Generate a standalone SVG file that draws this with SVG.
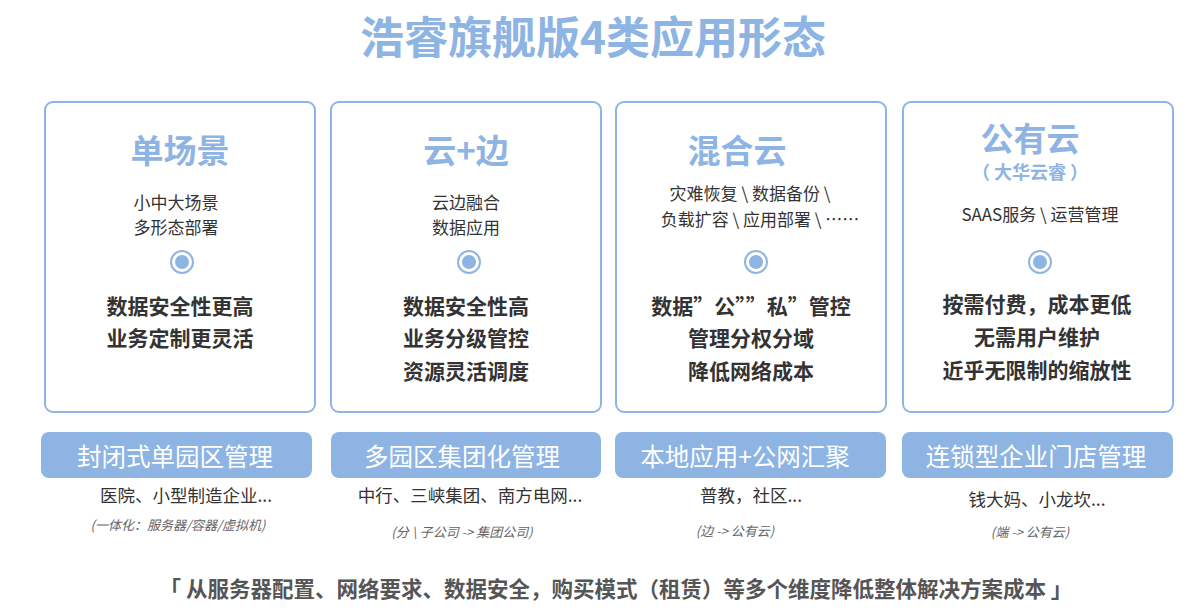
<svg xmlns="http://www.w3.org/2000/svg" width="1200" height="611" viewBox="0 0 1200 611">
<style>
text{font-family:"Noto Sans CJK SC","Noto Sans",sans-serif;text-anchor:middle}
.card{fill:#fff;stroke:#8db4e3;stroke-width:2}
.bar{fill:#8db4e3}
.h{font-size:33px;font-weight:bold;fill:#8db4e3}
.s{font-size:17px;fill:#333}
.b{font-size:21px;font-weight:bold;fill:#333}
.bt{font-size:24.5px;fill:#fff}
.c{font-size:17.5px;fill:#333}
.i{font-size:13px;font-style:italic;fill:#666}
</style>
<rect width="1200" height="611" fill="#fff"/>
<text x="593" y="54" style="font-size:44px;font-weight:bold;fill:#8db4e3">浩睿旗舰版4类应用形态</text>
<g id="n1">
<rect class="card" x="45" y="102" width="270" height="310" rx="8"/>
<text class="h" x="180" y="163">单场景</text>
<text class="s" x="176" y="209">小中大场景</text>
<text class="s" x="176" y="234">多形态部署</text>
<circle cx="182" cy="262" r="11" fill="none" stroke="#8db4e3" stroke-width="2"/><circle cx="182" cy="262" r="7" fill="#8db4e3"/>
<text class="b" x="180" y="314">数据安全性更高</text>
<text class="b" x="180" y="346">业务定制更灵活</text>
<rect class="bar" x="41" y="432" width="271" height="46" rx="8"/>
<text class="bt" x="175" y="466">封闭式单园区管理</text>
<text class="c" x="186" y="502">医院、小型制造企业...</text>
<text class="i" x="178" y="530">(一体化：服务器/容器/虚拟机)</text>
</g>
<g id="n2">
<rect class="card" x="331" y="102" width="270" height="310" rx="8"/>
<text class="h" x="466" y="163">云+边</text>
<text class="s" x="466" y="209">云边融合</text>
<text class="s" x="466" y="234">数据应用</text>
<circle cx="469" cy="262" r="11" fill="none" stroke="#8db4e3" stroke-width="2"/><circle cx="469" cy="262" r="7" fill="#8db4e3"/>
<text class="b" x="466" y="314">数据安全性高</text>
<text class="b" x="466" y="346">业务分级管控</text>
<text class="b" x="466" y="379">资源灵活调度</text>
<rect class="bar" x="331" y="432" width="270" height="46" rx="8"/>
<text class="bt" x="462" y="466">多园区集团化管理</text>
<text class="c" x="470" y="502">中行、三峡集团、南方电网...</text>
<text class="i" x="462" y="537">(分 \ 子公司 -&gt; 集团公司)</text>
</g>
<g id="n3">
<rect class="card" x="616" y="102" width="270" height="310" rx="8"/>
<text class="h" x="737" y="163">混合云</text>
<text class="s" x="750" y="200">灾难恢复 \ 数据备份 \</text>
<text class="s" x="760" y="226">负载扩容 \ 应用部署 \ ……</text>
<circle cx="756" cy="262" r="11" fill="none" stroke="#8db4e3" stroke-width="2"/><circle cx="756" cy="262" r="7" fill="#8db4e3"/>
<text class="b" x="751" y="314">数据”公””私”管控</text>
<text class="b" x="751" y="346">管理分权分域</text>
<text class="b" x="751" y="379">降低网络成本</text>
<rect class="bar" x="615" y="432" width="271" height="46" rx="8"/>
<text class="bt" x="745" y="466">本地应用+公网汇聚</text>
<text class="c" x="751" y="502">普教，社区...</text>
<text class="i" x="735" y="536">(边 -&gt; 公有云)</text>
</g>
<g id="n4">
<rect class="card" x="903" y="102" width="270" height="310" rx="8"/>
<text class="h" x="1030" y="151">公有云</text>
<text x="1030" y="179" style="font-size:18px;font-weight:bold;fill:#8db4e3">（ 大华云睿 ）</text>
<text class="s" x="1040" y="221">SAAS服务 \ 运营管理</text>
<circle cx="1040" cy="262" r="11" fill="none" stroke="#8db4e3" stroke-width="2"/><circle cx="1040" cy="262" r="7" fill="#8db4e3"/>
<text class="b" x="1037" y="312">按需付费，成本更低</text>
<text class="b" x="1037" y="345">无需用户维护</text>
<text class="b" x="1037" y="378">近乎无限制的缩放性</text>
<rect class="bar" x="902" y="432" width="271" height="46" rx="8"/>
<text class="bt" x="1036" y="466">连锁型企业门店管理</text>
<text class="c" x="1037" y="506">钱大妈、小龙坎...</text>
<text class="i" x="1030" y="537">(端 -&gt; 公有云)</text>
</g>
<g id="connectors"/>
<text x="616" y="597" style="font-size:21.5px;font-weight:bold;fill:#555">「 从服务器配置、网络要求、数据安全，购买模式（租赁）等多个维度降低整体解决方案成本 」</text>
</svg>
